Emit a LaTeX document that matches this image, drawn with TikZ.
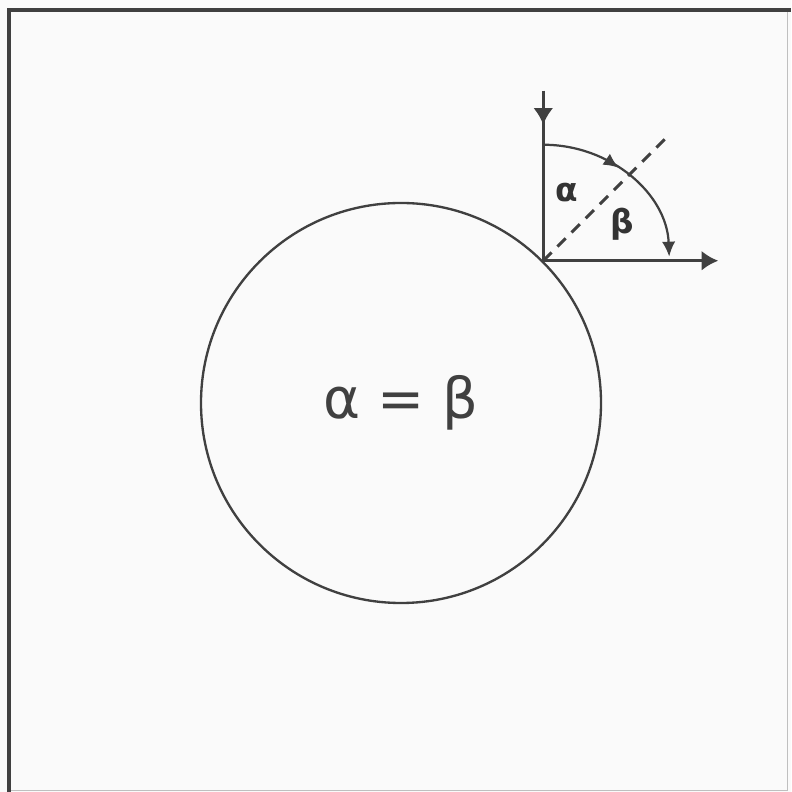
\documentclass[tikz,border=0pt]{standalone}
\usepackage{fontspec}
\newfontfamily\greekfont{DejaVu Sans}
\usepackage{tikz}
\usetikzlibrary{arrows.meta,calc,decorations.markings}

\begin{document}
\begin{tikzpicture}[
    x=0.03cm, y=0.03cm,
    ink/.style={draw=black!75, line width=2.6pt},
    ray/.style={ink, -{Latex[length=5mm, width=6mm]}},
    inray/.style={ink, postaction={decorate}, decoration={markings, mark=at position 0.2 with {\arrow{Latex[length=5mm, width=6mm]}}}},
    anglearc/.style={draw=black!75, line width=1.9pt, -{Latex[length=4.5mm, width=4mm]}, postaction={decorate}, decoration={markings, mark=at position 0.43 with {\arrow{Latex[length=4.5mm, width=4mm]}}}},
    normal/.style={draw=black!75, line width=2.6pt, dash pattern=on 3.5mm off 2.5mm},
    greek/.style={text=black!80, font=\greekfont\bfseries\fontsize{28}{32}\selectfont}
]

    % Page and frame
    \useasboundingbox[fill=black!2] (0,0) rectangle (791,792);
    \draw[draw=black!25, line width=0.6pt] (787,782) -- (787,2) -- (9,2);
    \draw[draw=black!75, line width=4pt] (9,0) -- (9,782) -- (791,782);

    % Ball
    \node (ball) at (401,389) [circle, ink, line width=2pt, minimum size=12cm, inner sep=0pt, text=black!75, font=\greekfont\fontsize{48}{56}\selectfont] {α = β};
    \coordinate (hit) at (ball.45);

    % Incoming and outgoing rays
    \coordinate (src) at ($(hit)+(0,170)$);
    \coordinate (dst) at ($(hit)+(175,0)$);
    \coordinate (nrm) at ($(hit)+(45:176)$);
    \draw [inray] (src) -- (hit);
    \draw [ray] (hit) -- (dst);
    \draw [normal] (hit) -- (nrm);

    % Angles
    \draw [anglearc] ($(hit)+(0,116)$) arc[start angle=90, end angle=2, x radius=126, y radius=116];
    \node (alpha) at ($(hit)+(24,68)$) [greek] {α};
    \node (beta) at ($(hit)+(79,37)$) [greek] {β};

\end{tikzpicture}
\end{document}
